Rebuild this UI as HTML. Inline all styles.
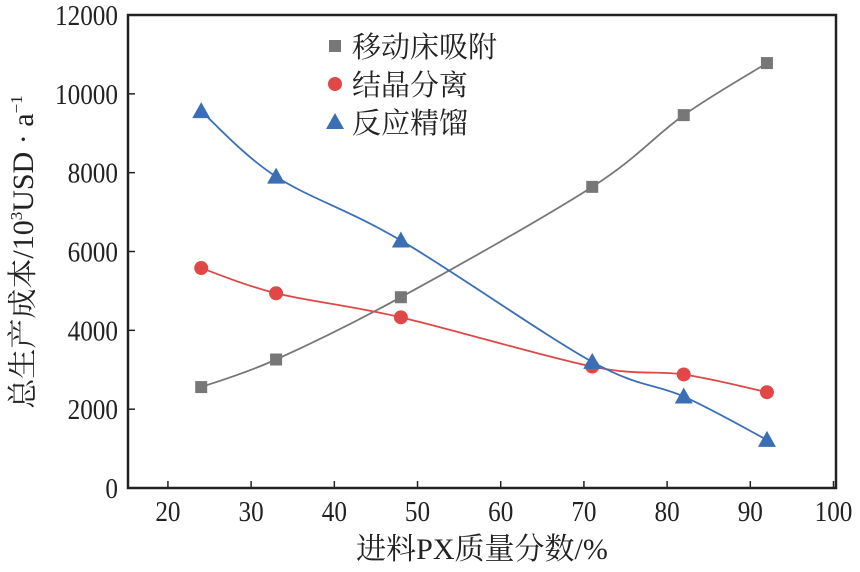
<!DOCTYPE html>
<html><head><meta charset="utf-8"><style>
body{margin:0;background:#fff}
text{font-family:"Liberation Serif","Noto Serif CJK SC",serif;fill:#222}
</style></head><body>
<svg id="c" width="860" height="567" xmlns="http://www.w3.org/2000/svg"></svg>
<script>
const xs=[24,33,48,71,82,92];
const adsorption=[2560,3260,4840,7640,9460,10780];
const crystal=[5580,4940,4330,3080,2880,2430];
const distill=[9560,7900,6280,3200,2320,1220];
const xTicks=[20,30,40,50,60,70,80,90,100];
const yTicks=[0,2000,4000,6000,8000,10000,12000];
const L=128,R=836,T=15,B=488,xmin=15.2,xmax=100.3,ymax=12000;
const X=v=>L+(v-xmin)/(xmax-xmin)*(R-L);
const Y=v=>B-v/ymax*(B-T);
const svg=document.getElementById('c');const NS='http://www.w3.org/2000/svg';
function mk(t,a,p){const e=document.createElementNS(NS,t);for(const k in a)e.setAttribute(k,a[k]);(p||svg).appendChild(e);return e;}
let e=mk('rect',{x:L,y:T,width:R-L,height:B-T,fill:'none',stroke:'#222','stroke-width':2.5});


xTicks.forEach(t=>{
 e=mk('line',{x1:X(t),x2:X(t),y1:B,y2:B-7,stroke:'#222','stroke-width':1.5});
 
 
 e=mk('text',{x:X(t),y:B+33,'text-anchor':'middle','font-size':28,transform:`translate(${X(t)},0) scale(0.9,1) translate(${-X(t)},0)`});e.textContent=t;
 
 
});
yTicks.forEach(t=>{
 e=mk('text',{x:L-10,y:Y(t)+10,'text-anchor':'end','font-size':28,transform:`translate(${L-10},0) scale(0.9,1) translate(${-(L-10)},0)`});e.textContent=t;
 
 
 e=mk('line',{x1:L,x2:L+7,y1:Y(t),y2:Y(t),stroke:'#222','stroke-width':1.5});
 
 
});
e=mk('text',{x:482,y:559,'text-anchor':'middle','font-size':30});e.textContent='进料PX质量分数/%';


e=mk('text',{transform:'translate(33,252) rotate(-90)','text-anchor':'middle','font-size':30});
e.innerHTML='总生产成本/10<tspan font-size="17" dy="-11">3</tspan><tspan dy="11">USD · a</tspan><tspan font-size="17" dy="-11">−1</tspan>';


function curve(vals,color){
 const p=xs.map((x,i)=>[X(x),Y(vals[i])]);let d='M'+p[0];
 for(let i=0;i<p.length-1;i++){const p0=p[i-1]||p[i],p1=p[i],p2=p[i+1],p3=p[i+2]||p2;
  d+=`C${p1[0]+(p2[0]-p0[0])/6},${p1[1]+(p2[1]-p0[1])/6} ${p2[0]-(p3[0]-p1[0])/6},${p2[1]-(p3[1]-p1[1])/6} ${p2[0]},${p2[1]}`;}
 return mk('path',{d,fill:'none',stroke:color,'stroke-width':1.8});
}
function marker(type,x,y,color){
 if(type=='sq')return mk('rect',{x:x-6,y:y-6,width:12,height:12,fill:color});
 if(type=='ci')return mk('circle',{cx:x,cy:y,r:7,fill:color});
 return mk('polygon',{points:`${x},${y-9} ${x-9},${y+7} ${x+9},${y+7}`,fill:color});
}
const series=[[adsorption,'#777','sq','adsorption'],[crystal,'#e04848','ci','crystallization'],[distill,'#3a6fb5','tr','distillation']];
series.forEach(([v,c,m,n])=>{
 e=curve(v,c);
 
 
 v.forEach((y,i)=>{e=marker(m,X(xs[i]),Y(y),c);
  
  });
});
const leg=[['移动床吸附','#777','sq'],['结晶分离','#e04848','ci'],['反应精馏','#3a6fb5','tr']];
leg.forEach(([t,c,m],i)=>{const y=46+i*38;
 e=marker(m,335,y,c);
 
 
 e=mk('text',{x:352,y:y+11,'font-size':29});e.textContent=t;
 
 
});
</script>
</body></html>
